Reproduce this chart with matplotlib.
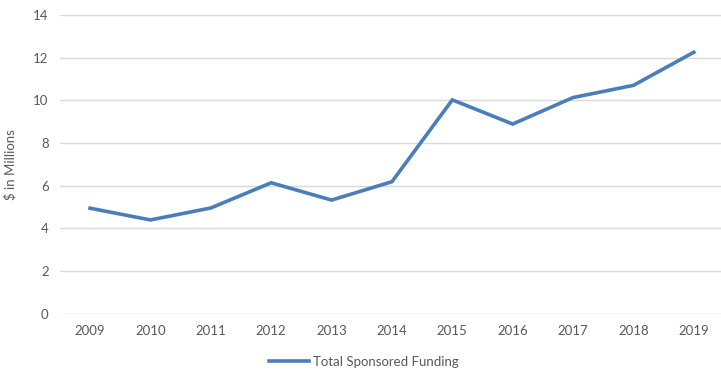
import matplotlib.pyplot as plt

# data
years = ['2009', '2010', '2011', '2012', '2013', '2014', '2015', '2016', '2017', '2018', '2019']
funding = [4.95, 4.40, 4.96, 6.14, 5.33, 6.19, 10.02, 8.89, 10.13, 10.70, 12.25]
yticks = [0, 2, 4, 6, 8, 10, 12, 14]

plt.rcParams['font.family'] = ['Lato', 'DejaVu Sans']

fig = plt.figure(figsize=(7.21, 3.81), dpi=100)
ax = fig.add_axes([0.083, 0.176, 0.917, 0.785])

x = range(len(years))
ax.plot(x, funding, color='#4a7ebb', linewidth=2.6, solid_joinstyle='miter',
        label='Total Sponsored Funding')

ax.set_ylim(0, 14)
ax.set_xlim(-0.5, 10.45)
ax.set_yticks(yticks)
ax.set_xticks(list(x))
ax.set_xticklabels(years)
ax.grid(axis='y', color='#d9d9d9', linewidth=1)
ax.set_axisbelow(True)
for s in ax.spines.values():
    s.set_visible(False)
ax.tick_params(length=0, colors='#595959', labelsize=9.5, pad=8)
ax.set_ylabel('$ in Millions', color='#595959', fontsize=9.5, labelpad=12)

ax.legend(loc='upper center', bbox_to_anchor=(0.46, -0.1), frameon=False,
          fontsize=9.5, handlelength=3, labelcolor='#595959', handletextpad=0.3)

fig.savefig('out.png', dpi=100)
